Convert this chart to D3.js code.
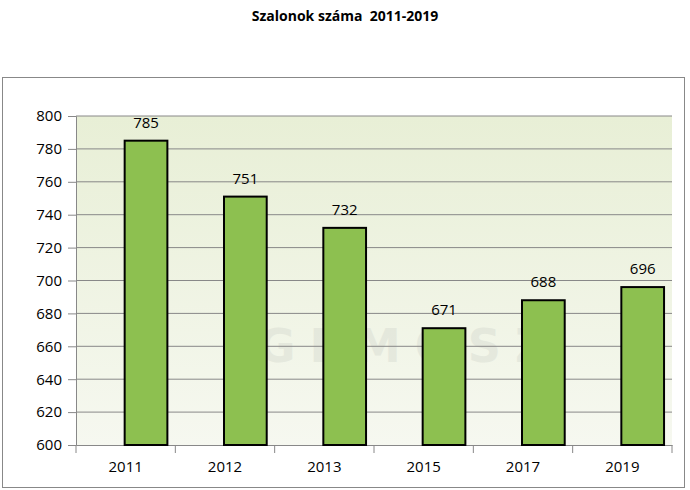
<!DOCTYPE html>
<html><head><meta charset="utf-8">
<script src="https://cdn.jsdelivr.net/npm/d3@7"></script>
<style>body{margin:0;background:#fff}</style></head>
<body><svg id="c" width="690" height="490"></svg>
<script>
const categories=["2011","2012","2013","2015","2017","2019"];
const values=[785,751,732,671,688,696];
const yTicks=[600,620,640,660,680,700,720,740,760,780,800];
const title="Szalonok száma  2011-2019";

const svg=d3.select("#c");
const font="'Open Sans', 'Liberation Sans', sans-serif";
svg.append("text").attr("x",345).attr("y",21).attr("text-anchor","middle").style("white-space","pre")
 .attr("font-family",font).attr("font-weight","bold").attr("font-size",14).text(title);
svg.append("rect").attr("x",2.5).attr("y",77.5).attr("width",682).attr("height",410)
 .attr("fill","#fff").attr("stroke","#888").attr("stroke-width",1);

const L=76,R=672,T=116,B=445;
const x=d3.scaleBand().domain(categories).range([L,R]);
const y=d3.scaleLinear().domain([600,800]).range([B,T]);
const defs=svg.append("defs");
const g1=defs.append("linearGradient").attr("id","bg").attr("x1",0).attr("y1",0).attr("x2",0).attr("y2",1);
g1.append("stop").attr("offset",0).attr("stop-color","#e8efd6");
g1.append("stop").attr("offset",1).attr("stop-color","#f6f8f0");
svg.append("rect").attr("x",L).attr("y",T).attr("width",R-L).attr("height",B-T).attr("fill","url(#bg)");
svg.append("text").attr("x",410).attr("y",362).attr("text-anchor","middle")
 .attr("font-family","'DejaVu Sans', sans-serif").attr("font-weight","bold").attr("font-size",46)
 .attr("fill","#c8ccc4").attr("opacity",0.3).attr("letter-spacing",14).text("GÉMOSZ");

const ya=svg.append("g").attr("transform",`translate(${L},0)`)
 .call(d3.axisLeft(y).tickValues(yTicks).tickSize(8).tickPadding(6));
ya.select(".domain").attr("stroke","#888");
ya.selectAll("line").attr("stroke","#888");
ya.selectAll("text").attr("font-family",font).attr("font-size",15).attr("fill","#000");
svg.append("g").selectAll("line").data(yTicks.slice(1)).join("line")
 .attr("x1",L).attr("x2",R).attr("y1",d=>y(d)).attr("y2",d=>y(d)).attr("stroke","#888");
const xa=svg.append("g").attr("transform",`translate(0,${B})`)
 .call(d3.axisBottom(x).tickSize(0).tickPadding(16));
xa.select(".domain").attr("stroke","#888");
xa.selectAll("text").attr("font-family",font).attr("font-size",15).attr("fill","#000");
svg.append("g").selectAll("line").data(categories.map((c,i)=>x(c)+x.bandwidth())).join("line")
 .attr("x1",d=>d).attr("x2",d=>d).attr("y1",B).attr("y2",B+8).attr("stroke","#888");
svg.append("line").attr("x1",L).attr("x2",L).attr("y1",B).attr("y2",B+8).attr("stroke","#888");

const bw=x.bandwidth()*0.43;
const bx=c=>x(c)+x.bandwidth()/2-1;
svg.append("g").selectAll("rect").data(values).join("rect")
 .attr("x",(d,i)=>bx(categories[i])).attr("y",d=>y(d)).attr("width",bw).attr("height",d=>B-y(d))
 .attr("fill","#8dc050").attr("stroke","#000").attr("stroke-width",2);
svg.append("g").selectAll("text").data(values).join("text")
 .attr("x",(d,i)=>bx(categories[i])+bw/2).attr("y",d=>y(d)-13).attr("text-anchor","middle")
 .attr("font-family",font).attr("font-size",15).text(d=>d);
</script></body></html>
